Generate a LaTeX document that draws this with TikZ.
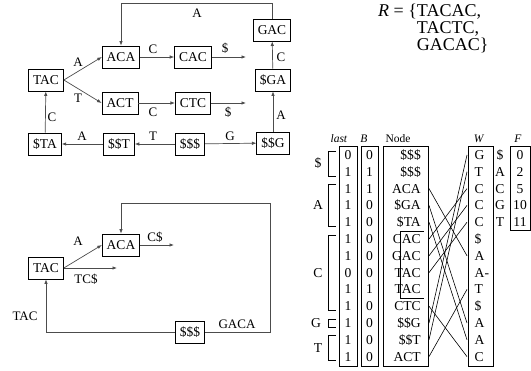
\documentclass[tikz,border=0pt]{standalone}
\usepackage{fontspec}
\setmainfont{Liberation Serif}
\usetikzlibrary{arrows.meta}
\begin{document}
\begin{tikzpicture}[x=1pt,y=-1pt,
  bx/.style={draw,line width=0.8pt,minimum height=22pt,inner xsep=4.5pt,inner ysep=0pt,
    text height=8.9pt,text depth=0pt,font=\fontsize{13.5}{15}\selectfont},
  ln/.style={draw=black!70,line width=0.7pt},
  arr/.style={ln,-{Latex[length=4.5pt,width=3.5pt]}},
  lbl/.style={inner sep=0pt,text height=8.5pt,text depth=0pt,font=\fontsize{13}{15}\selectfont},
  tt/.style={inner sep=0pt,text height=9pt,text depth=0pt,font=\fontsize{13.6}{15}\selectfont},
  hd/.style={inner sep=0pt,font=\fontsize{11.5}{13}\selectfont},
  col/.style={draw,line width=0.8pt},
  br/.style={draw,line width=0.7pt},
  cross/.style={draw,line width=0.6pt},
  rset/.style={inner sep=0pt,anchor=north west,font=\fontsize{18}{16}\selectfont},
  ]
\useasboundingbox (0,0) rectangle (531,371);

% ---------- top-left graph ----------
\node[bx] (tac) at (46,80) {TAC};
\node[bx] (aca) at (121,57) {ACA};
\node[bx] (cac) at (193,57) {CAC};
\node[bx] (act) at (120,103) {ACT};
\node[bx] (ctc) at (193,103) {CTC};
\node[bx] (sta) at (45,144) {\$TA};
\node[bx] (sst) at (119,144) {\$\$T};
\node[bx] (sss) at (190,144) {\$\$\$};
\node[bx] (ssg) at (273,143) {\$\$G};
\node[bx] (sga) at (273,80) {\$GA};
\node[bx] (gac) at (272,30) {GAC};
\coordinate (e1) at (246,57);
\coordinate (e2) at (246,103);

\draw[arr] (tac.east) -- (aca.west);
\node[lbl] (la1) at (78,62) {A};
\draw[arr] (tac.east) -- (act.west);
\node[lbl] (la2) at (78,98) {T};
\draw[arr] (aca) -- (cac);
\node[lbl] (la3) at (153,49) {C};
\draw[arr] (cac) -- (e1);
\node[lbl] (la4) at (225,48) {\$};
\draw[arr] (act) -- (ctc);
\node[lbl] (la5) at (153,112) {C};
\draw[arr] (ctc) -- (e2);
\node[lbl] (la6) at (228,112) {\$};
\draw[arr] (sss) -- (sst);
\node[lbl] (la7) at (153,136) {T};
\draw[arr] (sst) -- (sta);
\node[lbl] (la8) at (82,136) {A};
\draw[arr] (sss) -- (ssg);
\node[lbl] (la9) at (230,136) {G};
\draw[arr] (sta) -- (tac);
\node[lbl] (la10) at (52,117) {C};
\draw[arr] (ssg) -- (sga);
\node[lbl] (la11) at (281,115) {A};
\draw[arr] (sga) -- (gac);
\node[lbl] (la12) at (281,57) {C};
\draw[arr] (gac.north) -- ++(0,-15) -| (aca.north);
\node[lbl] (la13) at (197,13) {A};

% ---------- bottom-left graph ----------
\node[bx] (tac2) at (46,268) {TAC};
\node[bx] (aca2) at (121,245) {ACA};
\node[bx] (sss2) at (190,332) {\$\$\$};
\coordinate (e3) at (174,245);
\coordinate (e4) at (117,268);
\coordinate (c1) at (270,203);

\draw[arr] (tac2.east) -- (aca2.west);
\node[lbl] (lb1) at (78,241) {A};
\draw[arr] (aca2) -- (e3);
\node[lbl] (lb2) at (155,237) {C\$};
\draw[arr] (tac2.east) -- (e4);
\node[lbl] (lb3) at (86,279) {TC\$};
\draw[arr] (sss2.west) -| (tac2.south);
\node[lbl] (lb4) at (25,316) {TAC};
\draw[arr] (sss2.east) -| (c1) -| (aca2.north);
\node[lbl] (lb5) at (237,324) {GACA};

% ---------- R set ----------
\node[rset] (rs) at (378,4) {\begin{tabular}{@{}r@{}l@{}}\textit{R} = \{&TACAC,\\ &TACTC,\\ &GACAC\}\end{tabular}};

% ---------- table ----------
\node[hd] (hlast) at (339,139) {\textit{last}};
\node[hd] (hb) at (364,139) {\textit{B}};
\node[hd] (hnode) at (398,139) {Node};
\node[hd] (hw) at (479,139) {\textit{W}};
\node[hd] (hf) at (518,139) {\textit{F}};

\draw[col] (339,146) rectangle (357,366);
\draw[col] (361,146) rectangle (378,366);
\draw[col] (383,146) rectangle (428,366);
\draw[col] (468,146) rectangle (493,366);
\draw[col] (510,146) rectangle (530,230);

\foreach \v [count=\i] in {0,1,1,1,1,1,1,0,1,1,1,1,1}
  \node[tt] (l\i) at (348,{155+16.8*(\i-1)}) {\v};
\foreach \v [count=\i] in {0,1,1,0,0,0,0,0,1,0,0,0,0}
  \node[tt] (b\i) at (369.5,{155+16.8*(\i-1)}) {\v};
\foreach \v [count=\i] in {\$\$\$,\$\$\$,ACA,\$GA,\$TA,CAC,GAC,TAC,TAC,CTC,\$\$G,\$\$T,ACT}
  \node[tt,anchor=east] (n\i) at (421,{155+16.8*(\i-1)}) {\v};
\foreach \v [count=\i] in {G,T,C,C,C,\$,A,A-,T,\$,A,A,C}
  \node[tt,anchor=west] (w\i) at (474.5,{155+16.8*(\i-1)}) {\v};
\foreach \v [count=\i] in {\$,A,C,G,T}
  \node[tt] (fl\i) at (500,{155+16.8*(\i-1)}) {\v};
\foreach \v [count=\i] in {0,2,5,10,11}
  \node[tt] (fv\i) at (520,{155+16.8*(\i-1)}) {\v};

% inner box
\draw[br] (424,231) -- (400,231) -- (400,298) -- (424,298);

% brackets
\draw[br] (336,151) -- (328,151) -- (328,176) -- (336,176);
\draw[br] (336,184.6) -- (328,184.6) -- (328,226.2) -- (336,226.2);
\draw[br] (336,235) -- (328,235) -- (328,310) -- (336,310);
\draw[br] (336,319) -- (328,319) -- (328,327) -- (336,327);
\draw[br] (336,335.8) -- (328,335.8) -- (328,360.6) -- (336,360.6);
\node[tt] (g1) at (318,163.4) {\$};
\node[tt] (g2) at (318,205.4) {A};
\node[tt] (g3) at (318,272.6) {C};
\node[tt] (g4) at (316,323) {G};
\node[tt] (g5) at (318,348.2) {T};

% crossing lines
\foreach \i in {1,...,13} {
  \coordinate (nl\i) at (429,{155+16.8*(\i-1)});
  \coordinate (wl\i) at (467,{155+16.8*(\i-1)});
}
\foreach \a/\b in {3/7,4/11,5/12,6/3,7/4,8/5,10/13,13/9,11/1,12/2}
  \draw[cross] (nl\a) -- (wl\b);
\end{tikzpicture}
\end{document}
